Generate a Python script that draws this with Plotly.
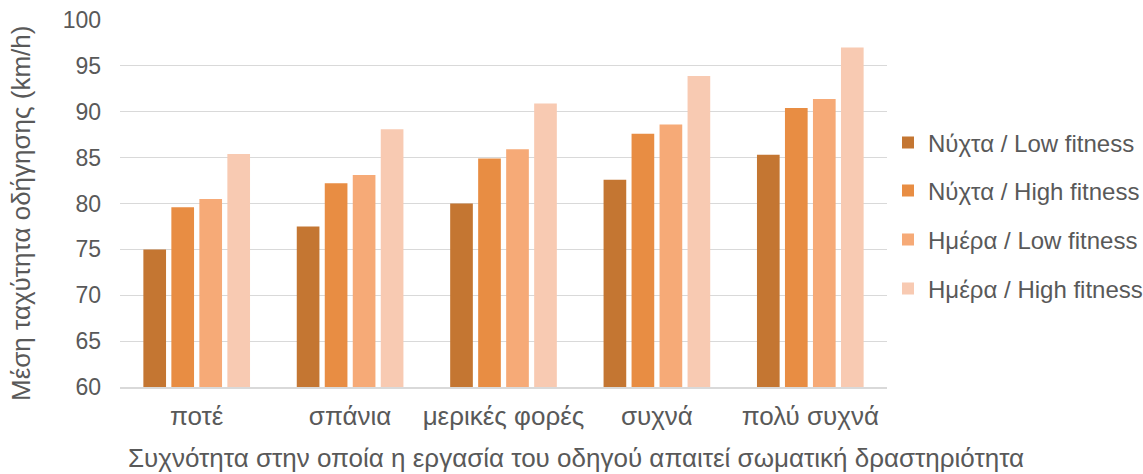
import plotly.graph_objects as go

# Driving speed by how often the driver's job needs physical activity
categories = ["ποτέ", "σπάνια", "μερικές φορές", "συχνά", "πολύ συχνά"]

night_low = [75.0, 77.5, 80.0, 82.6, 85.3]
night_high = [79.6, 82.2, 84.9, 87.6, 90.4]
day_low = [80.5, 83.1, 85.9, 88.6, 91.4]
day_high = [85.4, 88.1, 90.9, 93.9, 97.0]

series_names = [
    "Νύχτα / Low fitness",
    "Νύχτα / High fitness",
    "Ημέρα / Low fitness",
    "Ημέρα / High fitness",
]
series_values = [night_low, night_high, day_low, day_high]
series_colors = ["#C47632", "#E88D43", "#F6AA77", "#F8CAB2"]

y_ticks = [60, 65, 70, 75, 80, 85, 90, 95, 100]

FONT = "Liberation Sans, Arial, sans-serif"
TEXT = "#595959"

# plot-area geometry in pixels
W, H = 1143, 474
L, R, T, B = 120, 256, 20, 87
plot_w = W - L - R
plot_h = H - T - B

def px_to_paper_x(px):
    return (px - L) / plot_w

def px_to_paper_y(py):
    return (H - B - py) / plot_h

legend_rows = [143, 191, 240, 289]

fig = go.Figure()
layout_legends = {}
for i, (name, vals, col) in enumerate(zip(series_names, series_values, series_colors)):
    key = "legend" if i == 0 else f"legend{i + 1}"
    fig.add_trace(go.Bar(
        x=categories,
        y=vals,
        name=name,
        marker=dict(color=col, line=dict(width=0)),
        legend=key,
        showlegend=True,
    ))
    # container-referenced legends so they do not push the plot margins
    layout_legends[key] = dict(
        xref="container",
        yref="container",
        x=888 / W,
        y=1 - legend_rows[i] / H,
        xanchor="left",
        yanchor="middle",
        font=dict(family=FONT, size=24, color=TEXT),
        bgcolor="rgba(0,0,0,0)",
        borderwidth=0,
    )

fig.update_layout(
    width=W,
    height=H,
    margin=dict(l=L, r=R, t=T, b=B, pad=0, autoexpand=False),
    paper_bgcolor="white",
    plot_bgcolor="white",
    showlegend=True,
    barmode="group",
    bargap=0.27,
    bargroupgap=0.19,
    font=dict(family=FONT, size=20, color=TEXT),
    **layout_legends,
    xaxis=dict(
        showgrid=False,
        showline=True,
        linecolor="#D9D9D9",
        linewidth=1.5,
        ticks="",
        ticklabelstandoff=5,
        tickfont=dict(family=FONT, size=26, color=TEXT),
    ),
    yaxis=dict(
        range=[60, 100],
        tickvals=y_ticks,
        showgrid=True,
        gridcolor="#D9D9D9",
        gridwidth=1,
        zeroline=False,
        showline=False,
        ticks="",
        ticklabelstandoff=18,
        tickfont=dict(family=FONT, size=23, color=TEXT),
    ),
    annotations=[
        dict(
            text="Συχνότητα στην οποία η εργασία του οδηγού απαιτεί σωματική δραστηριότητα",
            xref="paper",
            yref="paper",
            x=px_to_paper_x(576),
            y=px_to_paper_y(458),
            xanchor="center",
            yanchor="middle",
            showarrow=False,
            font=dict(family=FONT, size=26, color=TEXT),
        ),
        dict(
            text="Μέση ταχύτητα οδήγησης (km/h)",
            xref="paper",
            yref="paper",
            x=px_to_paper_x(21),
            y=px_to_paper_y(214),
            xanchor="center",
            yanchor="middle",
            textangle=-90,
            showarrow=False,
            font=dict(family=FONT, size=26, color=TEXT),
        ),
    ],
)

fig.write_html("out.html")
